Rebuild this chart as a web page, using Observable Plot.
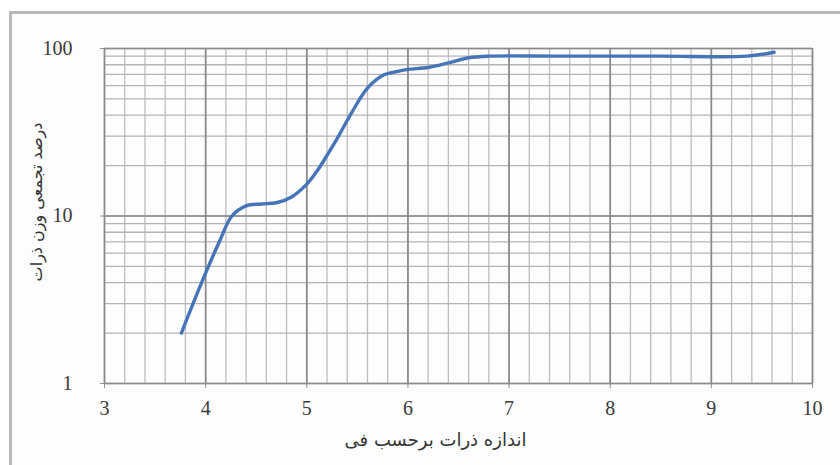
<!DOCTYPE html>
<html><head><meta charset="utf-8">
<script src="https://cdn.jsdelivr.net/npm/d3@7"></script>
<script src="https://cdn.jsdelivr.net/npm/@observablehq/plot@0.6"></script>
<style>
html,body{margin:0;padding:0;background:#fff;}
#wrap{position:relative;width:840px;height:465px;overflow:hidden;}
#frame{position:absolute;left:9px;top:11px;width:840px;height:470px;border-top:3px solid #b9b9b9;border-left:3px solid #b9b9b9;background:#fdfdfd;}
#chart{position:absolute;left:0;top:0;}
</style></head><body>
<div id="wrap"><div id="frame"></div><div id="chart"></div></div>
<script>
// Grain size (phi) vs cumulative weight percent
const phiSize    = [3.76, 3.96, 4.13, 4.26, 4.4, 4.55, 4.7, 4.85, 5.0, 5.1, 5.2, 5.3, 5.45, 5.6, 5.75, 5.9, 6.0, 6.2, 6.4, 6.6, 6.8, 7.5, 8.5, 9.35, 9.62];
const cumPercent = [2.0, 4.0, 6.9, 10.0, 11.5, 11.8, 12.0, 13.0, 15.5, 18.5, 23, 29, 42, 58, 69, 73, 75, 77, 82, 88, 90, 90, 90, 90, 95];
const xTicks = [3, 4, 5, 6, 7, 8, 9, 10];
const yTicks = [1, 10, 100];
const xTitle = "اندازه ذرات برحسب فی";
const yTitle = "درصد تجمعی وزن ذرات";

const data = phiSize.map((x, i) => ({x, y: cumPercent[i]}));
const xMinor = d3.range(3, 10.001, 0.2).map(v => +v.toFixed(2));
const yMinor = [];
for (const d of [1, 10]) for (let k = 1; k <= 9; k++) yMinor.push(k * d);
yMinor.push(100);

const persian = "'DejaVu Sans', sans-serif";
const chart = Plot.plot({
  width: 840, height: 465,
  marginLeft: 104, marginRight: 28, marginTop: 48, marginBottom: 82,
  style: {background: "transparent", fontFamily: "'Liberation Serif', serif", fontSize: "20px", color: "#3a3a3a"},
  x: {domain: [3, 10], label: null},
  y: {type: "log", domain: [1, 100], label: null},
  marks: [
    Plot.ruleX(xMinor, {stroke: "#bdbdbd", strokeWidth: 1.3, strokeOpacity: 1}),
    Plot.ruleY(yMinor, {stroke: "#b3b3b3", strokeWidth: 1.3, strokeOpacity: 1}),
    Plot.ruleX(xTicks, {stroke: "#8a8a8a", strokeWidth: 1.7, strokeOpacity: 1}),
    Plot.ruleY(yTicks, {stroke: "#8a8a8a", strokeWidth: 1.7, strokeOpacity: 1}),
    Plot.axisX({ticks: xTicks, tickSize: 5, tickPadding: 12, stroke: "#8e8e8e", tickFormat: d => String(d)}),
    Plot.axisY({ticks: yTicks, tickSize: 4, tickPadding: 28, stroke: "#8e8e8e", tickFormat: d => String(d)}),
    Plot.line(data, {x: "x", y: "y", curve: "catmull-rom", stroke: "#4574b8", strokeWidth: 3.4}),
    Plot.text([xTitle], {frameAnchor: "bottom", textAnchor: "middle", dx: -23, dy: 62, fontFamily: persian, fontSize: 18, fill: "#333"}),
    Plot.text([yTitle], {frameAnchor: "left", textAnchor: "middle", dx: -68, dy: -14, rotate: -90, fontFamily: persian, fontSize: 16, fill: "#333"})
  ]
});
document.getElementById("chart").appendChild(chart);
</script>
</body></html>
